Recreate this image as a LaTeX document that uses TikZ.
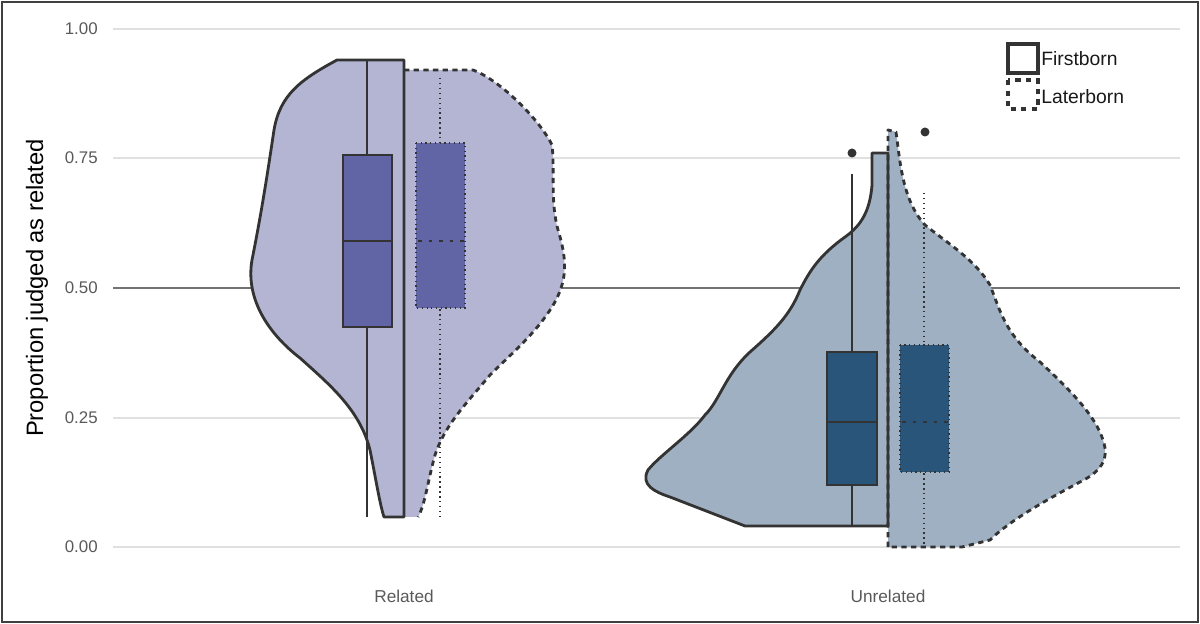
\documentclass[tikz,border=0pt]{standalone}
\usepackage{fontspec}
\setmainfont{Liberation Sans}
\begin{document}
\begin{tikzpicture}[x=0.02cm,y=-0.02cm,
  outl/.style={draw=black!80,line width=1.6pt,line join=round},
  dashoutl/.style={draw=black!80,line width=1.6pt,dash pattern=on 3pt off 2.5pt,line join=round},
  tick/.style={text=black!65,font=\fontsize{9.6}{11}\selectfont,anchor=east,inner sep=0},
  xlab/.style={text=black!65,font=\fontsize{9.8}{11}\selectfont,inner sep=0},
  leg/.style={text=black!90,font=\fontsize{11}{13}\selectfont,anchor=west,inner sep=0}]
\definecolor{rfill}{HTML}{B3B5D3}\definecolor{rbox}{HTML}{6265A5}
\definecolor{ufill}{HTML}{9FB0C2}\definecolor{ubox}{HTML}{2A557B}
\useasboundingbox (0,0) rectangle (1200,624);
\draw[black!75,line width=1pt] (2,2) rectangle (1198,622);
% grid
\foreach \y in {29,158,418,547} \draw[black!12,line width=0.8pt] (113,\y) -- (1180,\y);
\draw[black!55,line width=0.8pt] (113,288) -- (1180,288);
\node[tick] (t100) at (98,29) {1.00};
\node[tick] (t075) at (98,158) {0.75};
\node[tick] (t050) at (98,288) {0.50};
\node[tick] (t025) at (98,418) {0.25};
\node[tick] (t000) at (98,547) {0.00};
\node[rotate=90,font=\fontsize{13.5}{15}\selectfont,inner sep=0] (ytitle) at (37,288) {Proportion judged as related};
\node[xlab] (xr) at (404,596) {Related};
\node[xlab] (xu) at (888,596) {Unrelated};
% Related firstborn
\fill[rfill] (404,60) -- (337,60) .. controls (300,80) and (280,95) .. (274,130)
  .. controls (268,170) and (262,210) .. (252,260)
  .. controls (245,300) and (270,335) .. (300,358)
  .. controls (330,385) and (360,410) .. (370,450)
  .. controls (376,480) and (380,505) .. (384,517) -- (404,517) -- cycle;
% Related laterborn
\fill[rfill] (404,70) -- (473,70) .. controls (500,80) and (540,120) .. (552,145)
  .. controls (555,170) and (550,200) .. (558,230)
  .. controls (568,262) and (566,280) .. (556,300)
  .. controls (540,330) and (510,355) .. (490,375)
  .. controls (465,405) and (445,425) .. (435,455)
  .. controls (428,480) and (425,505) .. (418,517) -- (404,517) -- cycle;
\draw[black!80,line width=0.7pt] (367,60) -- (367,517);
\draw[black!80,line width=0.7pt,fill=rbox] (343,155) rectangle (392,327);
\draw[black!80,line width=1.5pt] (343,241) -- (392,241);
\draw[black!80,line width=0.8pt,dotted] (440,78) -- (440,517);
\draw[black!80,line width=0.7pt,dotted,fill=rbox] (416,143) rectangle (465,308);
\draw[black!80,line width=1.5pt,dash pattern=on 2pt off 4pt] (418,241) -- (465,241);
\draw[outl] (404,60) -- (337,60) .. controls (300,80) and (280,95) .. (274,130)
  .. controls (268,170) and (262,210) .. (252,260)
  .. controls (245,300) and (270,335) .. (300,358)
  .. controls (330,385) and (360,410) .. (370,450)
  .. controls (376,480) and (380,505) .. (384,517) -- (404,517) -- cycle;
\draw[dashoutl] (404,70) -- (473,70) .. controls (500,80) and (540,120) .. (552,145)
  .. controls (555,170) and (550,200) .. (558,230)
  .. controls (568,262) and (566,280) .. (556,300)
  .. controls (540,330) and (510,355) .. (490,375)
  .. controls (465,405) and (445,425) .. (435,455)
  .. controls (428,480) and (425,505) .. (418,517);
% Unrelated firstborn
\def\ufb{(888,526) -- (888,153) -- (872,153) -- (872,185) .. controls (870,210) and (862,225) .. (845,237)
  .. controls (820,255) and (810,270) .. (800,290)
  .. controls (790,315) and (775,330) .. (750,352)
  .. controls (725,375) and (720,400) .. (705,415)
  .. controls (690,435) and (660,455) .. (648,470)
  .. controls (640,485) and (655,492) .. (670,497)
  -- (745,526) -- cycle}
\def\ulb{(888,547) -- (888,130) -- (896,132) .. controls (900,160) and (902,200) .. (925,225)
  .. controls (950,245) and (975,260) .. (990,285)
  .. controls (1000,310) and (1005,335) .. (1040,362)
  .. controls (1070,390) and (1095,415) .. (1103,440)
  .. controls (1110,460) and (1100,472) .. (1080,482)
  .. controls (1050,498) and (1010,520) .. (990,540)
  -- (962,547) -- cycle}
\fill[ufill] \ufb;
\fill[ufill] \ulb;
\draw[black!80,line width=0.7pt] (852,174) -- (852,526);
\draw[black!80,line width=0.7pt,fill=ubox] (827,352) rectangle (877,485);
\draw[black!80,line width=1.5pt] (827,422) -- (877,422);
\fill[black!80] (852,153) circle (4.5);
\draw[black!80,line width=0.8pt,dotted] (924,193) -- (924,547);
\draw[black!80,line width=0.7pt,dotted,fill=ubox] (900,345) rectangle (949,472);
\draw[black!80,line width=1.5pt,dash pattern=on 2pt off 4pt] (902,422) -- (949,422);
\fill[black!80] (925,132) circle (4.5);
\draw[outl] \ufb;
\draw[dashoutl] (888,547) -- (888,130) -- (896,132) .. controls (900,160) and (902,200) .. (925,225)
  .. controls (950,245) and (975,260) .. (990,285)
  .. controls (1000,310) and (1005,335) .. (1040,362)
  .. controls (1070,390) and (1095,415) .. (1103,440)
  .. controls (1110,460) and (1100,472) .. (1080,482)
  .. controls (1050,498) and (1010,520) .. (990,540)
  -- (962,547) -- cycle;
% legend
\draw[black!80,line width=1.8pt] (1008,44) rectangle (1038,73);
\draw[black!80,line width=1.8pt,dash pattern=on 3pt off 3pt] (1008,80) rectangle (1038,109);
\node[leg] (lf) at (1041,59) {Firstborn};
\node[leg] (ll) at (1041,97) {Laterborn};
\end{tikzpicture}
\end{document}
